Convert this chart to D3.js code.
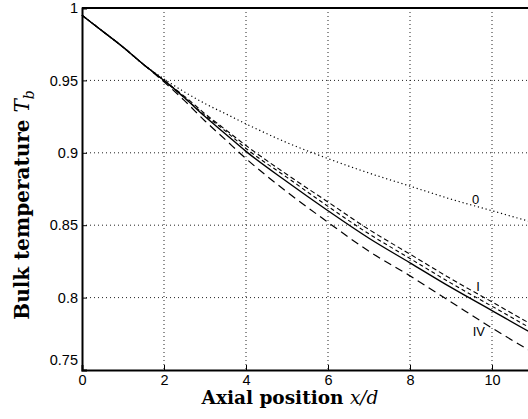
<!DOCTYPE html>
<html>
<head>
<meta charset="utf-8">
<script src="https://cdn.jsdelivr.net/npm/d3@7"></script>
<style>
  body { margin: 0; background: #fff; }
  svg { display: block; }
</style>
</head>
<body>
<div id="chart"></div>
<script>
// Valores
const xPos = [0, 0.5, 1, 1.5, 2, 2.5, 3, 3.5, 4, 5, 6, 7, 8, 9, 10, 11, 12];
const tbSolid = [0.995, 0.984, 0.973, 0.961, 0.950, 0.938, 0.925, 0.913, 0.901, 0.880, 0.860, 0.841, 0.824, 0.807, 0.791, 0.775, 0.760];
const tbCase0 = [0.995, 0.984, 0.973, 0.961, 0.951, 0.942, 0.934, 0.927, 0.920, 0.907, 0.896, 0.886, 0.877, 0.868, 0.860, 0.852, 0.845];
const tbCaseI = [0.995, 0.984, 0.973, 0.961, 0.950, 0.939, 0.927, 0.916, 0.905, 0.885, 0.866, 0.847, 0.830, 0.813, 0.797, 0.781, 0.766];
const tbCaseII = [0.995, 0.984, 0.973, 0.961, 0.950, 0.938, 0.926, 0.915, 0.903, 0.883, 0.863, 0.844, 0.827, 0.810, 0.794, 0.778, 0.763];
const tbCaseIV = [0.995, 0.984, 0.973, 0.961, 0.949, 0.936, 0.922, 0.909, 0.896, 0.873, 0.852, 0.832, 0.815, 0.797, 0.779, 0.762, 0.745];

const xTicks = [0, 2, 4, 6, 8, 10];
const yTicks = [0.75, 0.8, 0.85, 0.9, 0.95, 1];
const curveLabels = [
  { text: '0', x: 9.6, y: 0.867 },
  { text: 'I', x: 9.66, y: 0.807 },
  { text: 'IV', x: 9.68, y: 0.7756 },
];

const W = 528, H = 419;
const mLeft = 82, mTop = 8, mBottom = 370, mRight = 82 + 41 * 12;

const svg = d3.select('#chart').append('svg')
  .attr('width', W).attr('height', H);

const x = d3.scaleLinear().domain([0, 12]).range([mLeft, mRight]);
const y = d3.scaleLinear().domain([0.75, 1]).range([mBottom, mTop]);

// Rejilla punteada
const grid = svg.append('g').attr('stroke', '#222').attr('stroke-width', 1)
  .attr('stroke-dasharray', '1,3');
grid.selectAll('line.v').data(xTicks.filter(d => d > 0)).join('line')
  .attr('class', 'v')
  .attr('x1', d => x(d)).attr('x2', d => x(d))
  .attr('y1', mTop).attr('y2', mBottom);
grid.selectAll('line.h').data(yTicks.filter(d => d > 0.75 && d < 1)).join('line')
  .attr('class', 'h')
  .attr('x1', mLeft).attr('x2', W)
  .attr('y1', d => y(d)).attr('y2', d => y(d));

// Curvas
const line = (vals) => d3.line()
  .x((d, i) => x(xPos[i]))
  .y(d => y(d))
  .curve(d3.curveMonotoneX)(vals);

const series = [
  { vals: tbCase0, dash: '1.2,2.8', w: 1.2 },
  { vals: tbCaseI, dash: '5,3', w: 1.1 },
  { vals: tbCaseII, dash: '4,3', w: 1.1 },
  { vals: tbCaseIV, dash: '8,5', w: 1.2 },
  { vals: tbSolid, dash: null, w: 1.4 },
];
svg.append('g').selectAll('path').data(series).join('path')
  .attr('d', d => line(d.vals))
  .attr('fill', 'none')
  .attr('stroke', '#000')
  .attr('stroke-width', d => d.w)
  .attr('stroke-dasharray', d => d.dash);

// Ejes
const xAxis = svg.append('g').attr('transform', `translate(0,${mBottom})`)
  .call(d3.axisBottom(x).tickValues(xTicks).tickSize(-5).tickPadding(5).tickFormat(d3.format('d')));
const yAxis = svg.append('g').attr('transform', `translate(${mLeft},0)`)
  .call(d3.axisLeft(y).tickValues(yTicks).tickSize(-5).tickPadding(4).tickFormat(d => d === 1 ? '1' : d3.format('.2~f')(d)));
[xAxis, yAxis].forEach(g => {
  g.select('.domain').attr('stroke', '#000').attr('stroke-width', 2);
  g.selectAll('.tick line').attr('stroke', '#000');
  g.selectAll('.tick text').attr('fill', '#000')
    .attr('font-family', 'Liberation Sans, Arial, sans-serif').attr('font-size', 14.5);
});
yAxis.selectAll('.tick text').filter(d => d === 0.75).attr('dy', '-0.4em');

// Borde superior
svg.append('line').attr('x1', mLeft).attr('x2', W)
  .attr('y1', mTop).attr('y2', mTop).attr('stroke', '#000').attr('stroke-width', 2);

// Etiquetas de curvas
svg.append('g').selectAll('text').data(curveLabels).join('text')
  .attr('x', d => x(d.x)).attr('y', d => y(d.y))
  .attr('text-anchor', 'middle').attr('dominant-baseline', 'middle')
  .attr('fill', '#000')
  .attr('font-family', 'Liberation Sans, Arial, sans-serif').attr('font-size', 13)
  .text(d => d.text);

// Títulos de ejes
const xt = svg.append('text')
  .attr('x', 290).attr('y', 404).attr('text-anchor', 'middle')
  .attr('font-family', 'DejaVu Serif, serif').attr('font-weight', 'bold').attr('font-size', 18.5);
xt.append('tspan').text('Axial position ');
xt.append('tspan').attr('font-weight', 'normal').attr('font-style', 'italic').text('x/d');

const yt = svg.append('text')
  .attr('transform', 'translate(29,205) rotate(-90)').attr('text-anchor', 'middle')
  .attr('font-family', 'DejaVu Serif, serif').attr('font-weight', 'bold').attr('font-size', 20);
yt.append('tspan').text('Bulk temperature ');
yt.append('tspan').attr('font-weight', 'normal').attr('font-style', 'italic').text('T');
yt.append('tspan').attr('font-weight', 'normal').attr('font-style', 'italic')
  .attr('font-size', 14).attr('dy', 5).text('b');
</script>
</body>
</html>
